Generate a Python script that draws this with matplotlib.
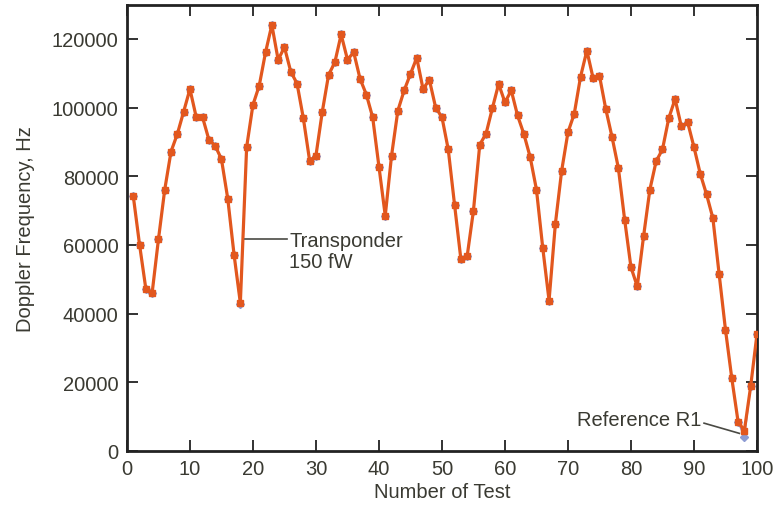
import numpy as np
import matplotlib
matplotlib.use("Agg")
from matplotlib import pyplot as plt

plt.rcParams['font.family'] = ['Liberation Sans', 'DejaVu Sans']

# test number and measured doppler frequency (Hz)
tests = np.arange(1, 101)

transponder = [
    74300, 60100, 47200, 46000, 61600, 76100, 87200, 92300, 98800, 105400,
    97200, 97200, 90700, 88900, 85000, 73500, 57200, 43100, 88500, 100800,
    106400, 116100, 124100, 113900, 117600, 110500, 107000, 96900, 84500, 86000,
    98700, 109500, 113200, 121300, 114000, 116100, 108400, 103800, 97200, 82800,
    68500, 86000, 99100, 105000, 109800, 114500, 105400, 108100, 100000, 97200,
    87800, 71700, 55900, 56700, 70000, 89200, 92400, 99800, 106900, 101500,
    105000, 97700, 92300, 85600, 76100, 59100, 43800, 66100, 81600, 92800,
    98200, 109000, 116600, 108500, 109300, 99600, 91400, 82400, 67300, 53500,
    47900, 62500, 76100, 84400, 87800, 96900, 102500, 94500, 95700, 88500,
    80700, 74700, 67800, 51400, 35300, 21200, 8500, 5900, 18800, 34000,
]

reference_r1 = [
    74300, 60100, 47200, 46000, 61600, 76100, 87200, 92300, 98800, 105400,
    97200, 97200, 90700, 88900, 85000, 73500, 57200, 42700, 88500, 100800,
    106400, 116100, 124100, 113900, 117600, 110500, 107000, 96900, 84500, 86000,
    98700, 109500, 113200, 121300, 114000, 116100, 108400, 103800, 97200, 82800,
    68500, 86000, 99100, 105000, 109800, 114500, 105400, 108100, 100000, 97200,
    87800, 71700, 55900, 56700, 70000, 89200, 92400, 99800, 106900, 101500,
    105000, 97700, 92300, 85600, 76100, 59100, 43800, 66100, 81600, 92800,
    98200, 109000, 116600, 108500, 109300, 99600, 91400, 82400, 67300, 53500,
    47900, 62500, 76100, 84400, 87800, 96900, 102500, 94500, 95700, 88500,
    80700, 74700, 67800, 51400, 35300, 21200, 8500, 4000, 18800, 34000,
]

text_col = '#3a3a32'
line_col = '#4a4a44'
orange = '#e2571e'
blue = '#8d9bd3'
fs = 14.5

fig = plt.figure(figsize=(7.74, 5.10), dpi=100)
ax = fig.add_axes([0.164, 0.114, 0.814, 0.875])

ax.plot(tests, reference_r1, color=blue, lw=1.2, marker='D', ms=4.5,
        mec=blue, mfc=blue, zorder=2)
ax.plot(tests, transponder, color=orange, lw=2.3, marker='s', ms=4.8,
        mec=orange, mfc=orange, zorder=3)

ax.set_xlim(0, 100)
ax.set_ylim(0, 130000)
ax.set_xticks(np.arange(0, 101, 10))
ax.set_yticks(np.arange(0, 120001, 20000))

ax.tick_params(direction='in', length=8, width=1.3, top=True, right=True,
               labelsize=fs, labelcolor=text_col, color='#222222', pad=6)
for s in ax.spines.values():
    s.set_linewidth(2.0)
    s.set_color('#222222')

ax.set_xlabel('Number of Test', fontsize=fs, color=text_col, labelpad=3)
ax.set_ylabel('Doppler Frequency, Hz', fontsize=fs, color=text_col, labelpad=12)

# callouts
ax.plot([18.8, 25.4], [61800, 61800], color=line_col, lw=1.2, zorder=4)
ax.text(25.8, 59800, 'Transponder', fontsize=fs, color=text_col,
        va='baseline', ha='left')
ax.text(25.8, 53700, '150 fW', fontsize=fs, color=text_col,
        va='baseline', ha='left')

ax.plot([91.6, 97.2], [8070, 5100], color=line_col, lw=1.2, zorder=4)
ax.text(91.2, 7400, 'Reference R1', fontsize=fs, color=text_col,
        va='baseline', ha='right')

fig.savefig('out.png', dpi=100)
